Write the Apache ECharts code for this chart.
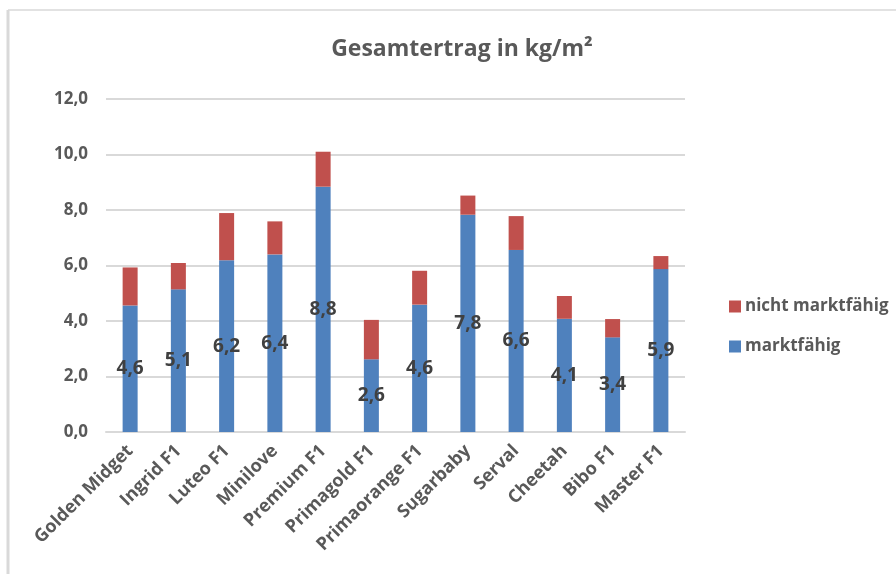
<!DOCTYPE html>
<html>
<head>
<meta charset="utf-8">
<script src="https://cdn.jsdelivr.net/npm/echarts@6/dist/echarts.min.js"></script>
<style>html,body{margin:0;padding:0;background:#fff}#c{width:896px;height:574px}</style>
</head>
<body>
<div id="c"></div>
<script>
const categories = ['Golden Midget','Ingrid F1','Luteo F1','Minilove','Premium F1','Primagold F1','Primaorange F1','Sugarbaby','Serval','Cheetah','Bibo F1','Master F1'];
const marktfaehig = [4.56,5.14,6.19,6.40,8.84,2.62,4.59,7.83,6.56,4.08,3.41,5.87];
const nichtMarktfaehig = [1.37,0.95,1.70,1.19,1.26,1.42,1.22,0.69,1.22,0.82,0.66,0.47];
const yTicks = {min:0, max:12, interval:2};

const fmt = v => v.toFixed(1).replace('.', ',');
const FONT = '"Open Sans", "Liberation Sans", sans-serif';
const chart = echarts.init(document.getElementById('c'));
chart.setOption({
  animation:false,
  title:{text:'Gesamtertrag in kg/m²', left:457, top:33, textAlign:'center',
    textStyle:{fontFamily:FONT, fontSize:23, fontWeight:'bold', color:'#595959'}},
  legend:{orient:'vertical', left:724, top:293, itemWidth:12, itemHeight:12, itemGap:23,
    icon:'rect',
    data:['nicht marktfähig','marktfähig'],
    textStyle:{fontFamily:FONT, fontSize:17, fontWeight:'bold', color:'#595959', padding:[0,0,0,-1]}},
  grid:{left:106, right:211, top:99, bottom:142, containLabel:false},
  xAxis:{type:'category', data:categories,
    axisLine:{lineStyle:{color:'#d9d9d9', width:2}},
    axisTick:{show:false},
    axisLabel:{rotate:45, interval:0, margin:16, fontFamily:FONT, fontSize:18, fontWeight:'bold', color:'#595959'}},
  yAxis:{type:'value', min:yTicks.min, max:yTicks.max, interval:yTicks.interval,
    axisLine:{show:false}, axisTick:{show:false},
    splitLine:{lineStyle:{color:'#d9d9d9', width:2}},
    axisLabel:{formatter:v=>fmt(v), margin:18, fontFamily:FONT, fontSize:17, fontWeight:'bold', color:'#595959'}},
  graphic:[
    {type:'line', shape:{x1:8, y1:10, x2:896, y2:10}, style:{stroke:'#d9d9d9', lineWidth:1.5}},
    {type:'line', shape:{x1:8, y1:10, x2:8, y2:574}, style:{stroke:'#d9d9d9', lineWidth:3}}
  ],
  series:[
    {name:'marktfähig', type:'bar', stack:'t', data:marktfaehig, barWidth:15,
      itemStyle:{color:'#4f81bd'},
      label:{show:true, position:'inside', formatter:p=>fmt(p.value), fontFamily:FONT, fontSize:19, fontWeight:'bold', color:'#404040'}},
    {name:'nicht marktfähig', type:'bar', stack:'t', data:nichtMarktfaehig, barWidth:15,
      itemStyle:{color:'#c0504d'}}
  ]
});
</script>
</body>
</html>
